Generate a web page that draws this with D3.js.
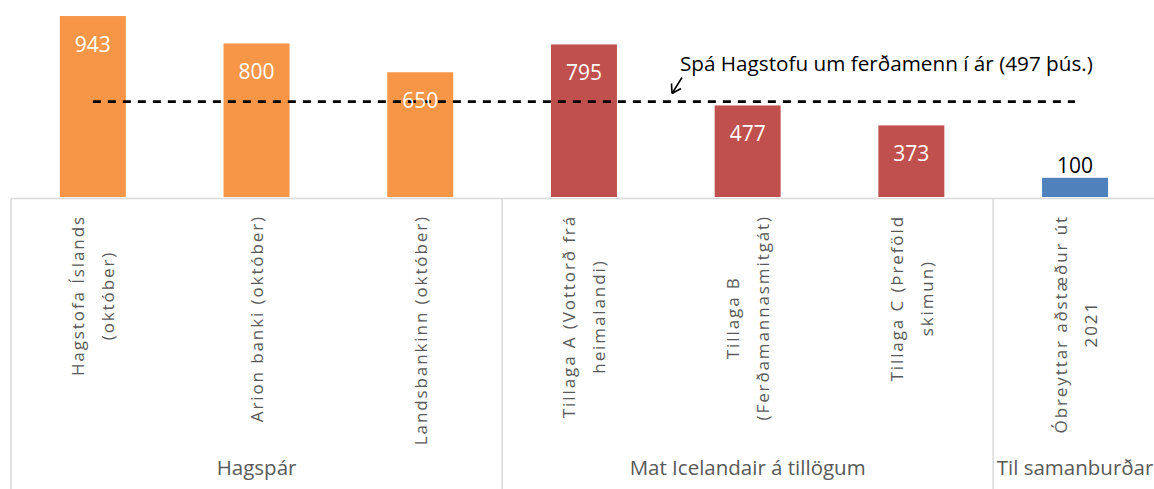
<!DOCTYPE html>
<html>
<head>
<meta charset="utf-8">
<script src="https://cdn.jsdelivr.net/npm/d3@7"></script>
<style>
  body { margin: 0; background: #fff; }
  svg { display: block; font-family: 'Open Sans', sans-serif; }
  .cat-label { fill: #595959; font-size: 17px; letter-spacing: 1.9px; }
  .group-label { fill: #595959; font-size: 20.5px; }
  .value-label { font-size: 21px; }
  .note { font-size: 20.7px; fill: #000; }
</style>
</head>
<body>
<svg id="chart"></svg>
<script>
// data
const categories = [
  'Hagstofa Íslands\n(október)',
  'Arion banki (október)',
  'Landsbankinn (október)',
  'Tillaga A (Vottorð frá\nheimalandi)',
  'Tillaga B\n(Ferðamannasmitgát)',
  'Tillaga C (Þreföld\nskimun)',
  'Óbreyttar aðstæður út\n2021'
]
const values = [943, 800, 650, 795, 477, 373, 100]
const groups = ['Hagspár', 'Mat Icelandair á tillögum', 'Til samanburðar']
const groupOf = [0, 0, 0, 1, 1, 1, 2]
const groupColors = ['#F79646', '#C0504D', '#4F81BD']
const forecast = 497
const forecastNote = 'Spá Hagstofu um ferðamenn í ár (497 þús.)'

const width = 1154, height = 489
const baseY = 197

const svg = d3.select('#chart')
  .attr('width', width)
  .attr('height', height)

// scales
const xScale = d3.scaleBand()
  .domain(categories)
  .range([11, 11 + 7 * 163.7])
  .paddingInner(0.597)
  .paddingOuter(0.597 / 2)

const yScale = d3.scaleLinear()
  .domain([0, 1000])
  .range([baseY, baseY - 191.9])

const step = xScale.step()
// left edge of category slot i (i may equal categories.length)
const edge = i => xScale.range()[0] + i * step

// frame / axis lines
const gridColor = '#D9D9D9'
svg.append('line')
  .attr('x1', edge(0)).attr('x2', width)
  .attr('y1', baseY + 1.5).attr('y2', baseY + 1.5)
  .attr('stroke', gridColor).attr('stroke-width', 1.5)

const boundaries = [0]
groupOf.forEach((g, i) => { if (i > 0 && g !== groupOf[i - 1]) boundaries.push(i) })
boundaries.push(categories.length)
svg.selectAll('.sep')
  .data(boundaries)
  .join('line')
    .attr('class', 'sep')
    .attr('x1', d => edge(d)).attr('x2', d => edge(d))
    .attr('y1', baseY + 1.5).attr('y2', height)
    .attr('stroke', gridColor).attr('stroke-width', 1.5)

// bars
svg.selectAll('.bar')
  .data(values)
  .join('rect')
    .attr('class', 'bar')
    .attr('x', (d, i) => xScale(categories[i]))
    .attr('y', d => yScale(d))
    .attr('width', xScale.bandwidth())
    .attr('height', d => baseY - yScale(d))
    .attr('fill', (d, i) => groupColors[groupOf[i]])

// forecast line
const cx = i => xScale(categories[i]) + xScale.bandwidth() / 2
svg.append('line')
  .attr('x1', cx(0)).attr('x2', cx(categories.length - 1))
  .attr('y1', yScale(forecast)).attr('y2', yScale(forecast))
  .attr('stroke', '#000')
  .attr('stroke-width', 2.6)
  .attr('stroke-dasharray', '8,7')

// value labels (white inside except the small bar)
svg.selectAll('.value-label')
  .data(values)
  .join('text')
    .attr('class', 'value-label')
    .attr('x', (d, i) => cx(i))
    .attr('y', d => d > 200 ? yScale(d) + 28 : yScale(d) - 13)
    .attr('text-anchor', 'middle')
    .attr('dominant-baseline', 'central')
    .attr('fill', d => d > 200 ? '#fff' : '#000')
    .text(d => d)

// annotation
svg.append('text')
  .attr('class', 'note')
  .attr('x', 680)
  .attr('y', 71)
  .text(forecastNote)

const ax = 672, ay = 93.5
svg.append('path')
  .attr('d', `M${ax + 10},${ay - 16} L${ax},${ay} M${ax},${ay} L${ax - 0.5},${ay - 10} M${ax},${ay} L${ax + 9},${ay - 5}`)
  .attr('fill', 'none')
  .attr('stroke', '#000')
  .attr('stroke-width', 1.6)

// category labels (rotated)
const labelTop = 215
const lineGap = 30
categories.forEach((c, i) => {
  const lines = c.split('\n')
  const g = svg.append('g')
    .attr('transform', `translate(${cx(i)},${labelTop}) rotate(-90)`)
  const texts = lines.map((t, j) => g.append('text')
    .attr('class', 'cat-label')
    .attr('dominant-baseline', 'central')
    .attr('y', (j - (lines.length - 1) / 2) * lineGap)
    .text(t))
  const maxLen = d3.max(texts, t => t.node().getComputedTextLength())
  texts.forEach(t => t.attr('text-anchor', 'middle').attr('x', -maxLen / 2))
})

// group labels
groups.forEach((name, gi) => {
  const first = groupOf.indexOf(gi)
  const last = groupOf.lastIndexOf(gi)
  const mid = (edge(first) + edge(last + 1)) / 2
  svg.append('text')
    .attr('class', 'group-label')
    .attr('x', mid)
    .attr('y', 475)
    .attr('text-anchor', 'middle')
    .text(name)
})
</script>
</body>
</html>
